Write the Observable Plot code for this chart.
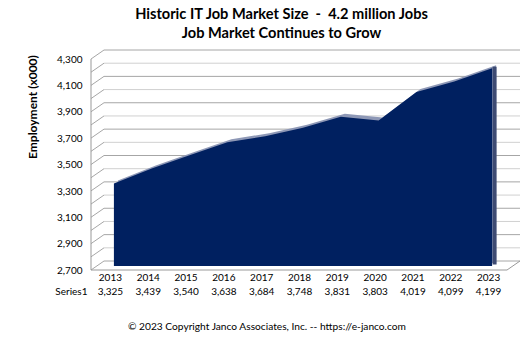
<!DOCTYPE html>
<html><head><meta charset="utf-8">
<script src="https://cdn.jsdelivr.net/npm/d3@7"></script>
<script src="https://cdn.jsdelivr.net/npm/@observablehq/plot@0.6"></script>
<style>
body{margin:0;background:#fff;font-family:Lato,"Open Sans",sans-serif;color:#000;}
#title{height:45px;box-sizing:border-box;padding-top:4px;padding-left:38px;text-align:center;font-weight:bold;font-size:14.6px;line-height:19px;white-space:pre;}
#chart{height:265px;}
#chart svg{display:block;}
#foot{height:30px;line-height:32px;padding-left:9px;text-align:center;font-size:10.2px;white-space:pre;}
</style></head><body>
<div id="title"><div>Historic IT Job Market Size  -  4.2 million Jobs</div><div>Job Market Continues to Grow</div></div>
<div id="chart"></div>
<div id="foot">© 2023 Copyright Janco Associates, Inc. -- https://e-janco.com</div>
<script>
const years = [2013, 2014, 2015, 2016, 2017, 2018, 2019, 2020, 2021, 2022, 2023];
const values = [3325, 3439, 3540, 3638, 3684, 3748, 3831, 3803, 4019, 4099, 4199];
const yTicks = [2700, 2900, 3100, 3300, 3500, 3700, 3900, 4100, 4300];
const yGrid = [2700, 2800, 2900, 3000, 3100, 3200, 3300, 3400, 3500, 3600, 3700, 3800, 3900, 4000, 4100, 4200, 4300];
const seriesName = "Series1";
const yLabel = "Employment (x000)";

const data = years.map((year, i) => ({year, value: values[i]}));
const fmt = d3.format(",");
const depthX = 13, depthY = -9;

function box(index, scales, vals, dim) {
  const g = d3.create("svg:g").attr("fill", "none");
  const x0 = dim.marginLeft, x1 = dim.width - dim.marginRight;
  const y = scales.y;
  const yb = y(yGrid[0]), yt = y(yGrid[yGrid.length - 1]);
  for (const v of yGrid) {
    const yy = y(v);
    const c = yTicks.includes(v) ? "#a6a6a6" : "#d0d0d0";
    g.append("line").attr("x1", x0 + depthX).attr("x2", x1 + depthX)
      .attr("y1", yy + depthY).attr("y2", yy + depthY).attr("stroke", c);
    g.append("line").attr("x1", x0).attr("x2", x0 + depthX)
      .attr("y1", yy).attr("y2", yy + depthY).attr("stroke", "#a6a6a6");
  }
  g.append("line").attr("x1", x0).attr("x2", x0).attr("y1", yt).attr("y2", yb).attr("stroke", "#999");
  g.append("line").attr("x1", x0).attr("x2", x1).attr("y1", yb).attr("y2", yb).attr("stroke", "#999");
  g.append("line").attr("x1", x1).attr("x2", x1 + depthX).attr("y1", yb).attr("y2", yb + depthY).attr("stroke", "#999");
  return g.node();
}

const chart = Plot.plot({
  width: 525, height: 265,
  marginTop: 14, marginBottom: 40, marginLeft: 91, marginRight: 18,
  style: {fontFamily: "Lato, sans-serif", fontSize: "10px", color: "#000", background: "transparent"},
  x: {type: "linear", domain: [years[0] - 0.5, years[years.length - 1] + 0.5], axis: null},
  y: {domain: [yTicks[0], yTicks[yTicks.length - 1]], axis: null},
  marks: [
    box,
    Plot.axisY(yTicks, {tickSize: 0, tickPadding: 9, tickFormat: fmt, label: null}),
    Plot.area(data, {x1: "year", y1: yTicks[0], y2: "value", dx: 8, dy: -7, fill: "#8e98b6"}),
    Plot.ruleX(data.slice(-1), {x: "year", y1: yTicks[0], y2: "value", dx: 6, dy: -5.5, stroke: "#3e4b73", strokeWidth: 4}),
    Plot.area(data, {x1: "year", y1: yTicks[0], y2: "value", dx: 4, dy: -4, fill: "#002060"}),
    Plot.text(years, {x: d => d, text: d => String(d), frameAnchor: "bottom", dy: 10}),
    Plot.text(data, {x: "year", text: d => fmt(d.value), frameAnchor: "bottom", dy: 24}),
    Plot.text([seriesName], {text: d => d, frameAnchor: "bottom-left", dx: -4, dy: 24, textAnchor: "end"}),
    Plot.text([yLabel], {text: d => d, frameAnchor: "left", rotate: -90, dx: -58, dy: -6, fontWeight: "bold", fontSize: 12})
  ]
});
document.getElementById("chart").append(chart);
</script>
</body></html>
